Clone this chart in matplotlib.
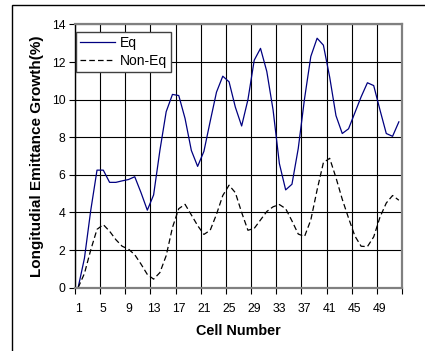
import matplotlib
matplotlib.use("Agg")
import matplotlib.pyplot as plt
from matplotlib.patches import Rectangle
import numpy as np

plt.rcParams['font.family'] = ['Liberation Sans', 'DejaVu Sans']

cells = list(range(1, 53))
eq = [0.0, 1.56, 4.1, 6.25, 6.25, 5.6, 5.6, 5.68, 5.75, 5.9,
      5.05, 4.12, 4.93, 7.3, 9.36, 10.28, 10.22, 9.0, 7.3, 6.45,
      7.25, 8.85, 10.4, 11.25, 10.95, 9.6, 8.6, 10.0, 12.1, 12.73,
      11.5, 9.45, 6.6, 5.2, 5.5, 7.4, 10.05, 12.3, 13.27, 12.9,
      11.2, 9.15, 8.2, 8.45, 9.3, 10.15, 10.9, 10.75, 9.45, 8.2,
      8.05, 8.82]
non_eq = [0.0, 0.75, 2.0, 3.1, 3.35, 3.0, 2.55, 2.2, 2.05, 1.75,
          1.25, 0.7, 0.45, 0.8, 1.7, 3.2, 4.2, 4.43, 3.87, 3.3,
          2.83, 3.05, 3.9, 4.9, 5.45, 5.05, 4.0, 3.05, 3.15, 3.6,
          4.05, 4.3, 4.42, 4.2, 3.55, 2.85, 2.72, 3.6, 5.2, 6.65,
          6.88, 5.85, 4.7, 3.7, 2.75, 2.2, 2.18, 2.7, 3.75, 4.5,
          4.9, 4.65]
x_labels = [str(v) for v in range(1, 53, 4)]
y_ticks = [0, 2, 4, 6, 8, 10, 12, 14]

W, H = 425, 351
fig = plt.figure(figsize=(W / 100, H / 100), dpi=100)
fig.patch.set_facecolor('white')

# outer frame
fig.patches.append(Rectangle((12 / W, -0.1), 1.2, 1 - 5 / H + 0.1,
                             transform=fig.transFigure, fill=False,
                             edgecolor='black', linewidth=1.0))

ax = fig.add_axes([75 / W, 1 - 287.6 / H, (402 - 75) / W, (287.6 - 24.5) / H])

ax.plot(cells, eq, color='#000080', linewidth=0.9, label='Eq')
ax.plot(cells, non_eq, color='black', linewidth=0.9, linestyle=(0, (4.5, 2.5)),
        label='Non-Eq')

ax.set_xlim(0.5, 52.5)
ax.set_ylim(0, 14)

bounds = np.arange(0.5, 53, 4)
ax.set_xticks(bounds)
ax.set_xticklabels([''] * len(bounds))
ax.set_xticks(list(range(1, 53, 4)), minor=True)
ax.set_xticklabels(x_labels, minor=True)
ax.tick_params(axis='x', which='major', direction='out', length=4, width=0.8, color='black')
ax.tick_params(axis='x', which='minor', length=0, pad=11, labelsize=8.8)
ax.set_yticks(y_ticks)
ax.tick_params(axis='y', direction='out', length=4, width=0.8, pad=3, labelsize=8.8)

ax.grid(True, which='major', color='black', linewidth=0.8)
ax.set_axisbelow(True)

for s in ['top', 'right', 'bottom']:
    ax.spines[s].set_color('#808080')
    ax.spines[s].set_linewidth(1.6)
ax.spines['left'].set_color('black')
ax.spines['left'].set_linewidth(1.0)

fig.text(238.5 / W, 1 - 330.7 / H, 'Cell Number', ha='center', va='center',
         fontsize=10.4, fontweight='bold')
fig.text(37.3 / W, 1 - 156.5 / H, 'Longitudial Emittance Growth(%)', ha='center',
         va='center', rotation=90, fontsize=11, fontweight='bold')

leg = ax.legend(loc='upper left', bbox_to_anchor=(76 / W, 1 - 31.7 / H),
                bbox_transform=fig.transFigure, fontsize=10, frameon=True,
                fancybox=False, shadow=False, handlelength=2.5,
                handletextpad=0.35, borderpad=0.3, labelspacing=0.3,
                borderaxespad=0)
leg.get_frame().set_edgecolor('#404040')
leg.get_frame().set_linewidth(1.0)
leg.get_frame().set_alpha(1)

fig.savefig('out.png', dpi=100, facecolor='white')
